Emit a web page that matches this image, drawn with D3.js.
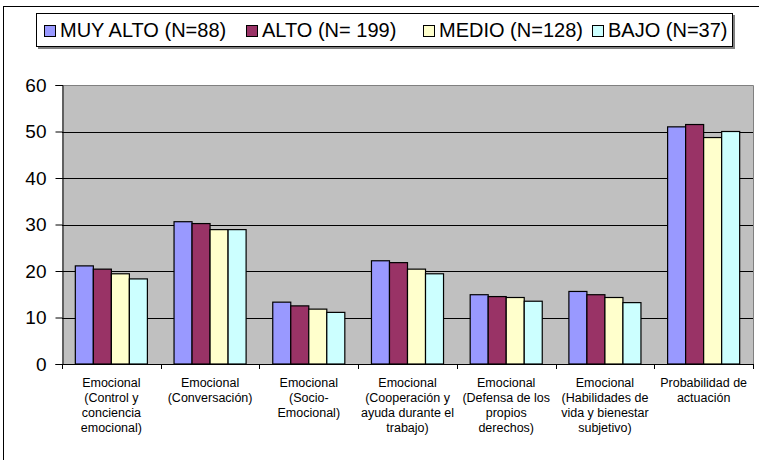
<!DOCTYPE html>
<html>
<head>
<meta charset="utf-8">
<script src="https://cdn.jsdelivr.net/npm/d3@7"></script>
<style>
  html, body { margin: 0; padding: 0; background: #fff; }
  svg { display: block; font-family: "Liberation Sans", Arial, sans-serif; }
</style>
</head>
<body>
<svg id="chart" width="759" height="460"></svg>
<script>
// ---- data ----
const categories = [
  ["Emocional", "(Control y", "conciencia", "emocional)"],
  ["Emocional", "(Conversación)"],
  ["Emocional", "(Socio-", "Emocional)"],
  ["Emocional", "(Cooperación y", "ayuda durante el", "trabajo)"],
  ["Emocional", "(Defensa de los", "propios", "derechos)"],
  ["Emocional", "(Habilidades de", "vida y bienestar", "subjetivo)"],
  ["Probabilidad de", "actuación"]
];
const seriesNames = ["MUY ALTO (N=88)", "ALTO (N= 199)", "MEDIO (N=128)", "BAJO (N=37)"];
const seriesColors = ["#9999FF", "#993366", "#FFFFCC", "#CCFFFF"];
const muyAlto = [21.1, 30.6, 13.3, 22.2, 14.9, 15.6, 51.0];
const alto    = [20.4, 30.2, 12.5, 21.8, 14.5, 14.9, 51.5];
const medio   = [19.4, 28.9, 11.8, 20.4, 14.3, 14.3, 48.7];
const bajo    = [18.3, 28.9, 11.1, 19.4, 13.5, 13.2, 50.0];
const seriesValues = [muyAlto, alto, medio, bajo];
const yTicks = [0, 10, 20, 30, 40, 50, 60];

// ---- layout ----
const svg = d3.select("#chart");
const plot = { left: 62, right: 753, top: 85, bottom: 364 };

// outer frame
svg.append("rect").attr("x", 3.5).attr("y", 6.5).attr("width", 800).attr("height", 500)
  .attr("fill", "#fff").attr("stroke", "#000").attr("stroke-width", 1);

const catIdx = categories.map((d, i) => i);
const x = d3.scaleBand().domain(catIdx).range([plot.left, plot.right])
  .paddingInner(0.27).paddingOuter(0.135);
const xs = d3.scaleBand().domain(d3.range(seriesNames.length)).range([0, x.bandwidth()]);
const y = d3.scaleLinear().domain([0, 60]).range([plot.bottom, plot.top]);

// plot background
svg.append("rect").attr("x", plot.left).attr("y", plot.top)
  .attr("width", plot.right - plot.left).attr("height", plot.bottom - plot.top)
  .attr("fill", "#C0C0C0");

// gridlines
svg.append("g").selectAll("line").data(yTicks.filter(t => t > 0 && t < 60)).join("line")
  .attr("x1", plot.left).attr("x2", plot.right)
  .attr("y1", d => Math.round(y(d)) + 0.5).attr("y2", d => Math.round(y(d)) + 0.5)
  .attr("stroke", "#000").attr("stroke-width", 1);

// plot border top/right
svg.append("path")
  .attr("d", `M${plot.left},${plot.top + 0.5}H${plot.right + 0.5}V${plot.bottom}`)
  .attr("fill", "none").attr("stroke", "#808080").attr("stroke-width", 1);

// bars
const groups = svg.append("g").selectAll("g").data(catIdx).join("g")
  .attr("transform", d => `translate(${x(d)},0)`);
groups.selectAll("rect")
  .data(ci => seriesValues.map((vals, si) => ({ si, v: vals[ci] })))
  .join("rect")
  .attr("x", d => xs(d.si))
  .attr("y", d => y(d.v))
  .attr("width", xs.bandwidth())
  .attr("height", d => y(0) - y(d.v))
  .attr("fill", d => seriesColors[d.si])
  .attr("stroke", "#000").attr("stroke-width", 1.2);

// y axis
const yAxis = d3.axisLeft(y).tickValues(yTicks).tickSize(7).tickPadding(9);
const gy = svg.append("g").attr("transform", `translate(${plot.left + 0.5},0)`).call(yAxis);
gy.select(".domain").attr("stroke", "#000");
gy.selectAll(".tick line").attr("stroke", "#000");
gy.selectAll(".tick text").attr("font-size", 19).attr("fill", "#000")
  .attr("font-family", "Liberation Sans, Arial, sans-serif");

// x axis line + boundary ticks
const gx = svg.append("g");
gx.append("line").attr("x1", plot.left).attr("x2", plot.right + 0.5)
  .attr("y1", plot.bottom + 0.5).attr("y2", plot.bottom + 0.5).attr("stroke", "#000");
const step = x.step();
gx.selectAll("line.bt").data(d3.range(categories.length + 1)).join("line")
  .attr("class", "bt")
  .attr("x1", i => Math.round(plot.left + i * step) + 0.5)
  .attr("x2", i => Math.round(plot.left + i * step) + 0.5)
  .attr("y1", plot.bottom).attr("y2", plot.bottom + 5)
  .attr("stroke", "#000");

// x labels
const labels = svg.append("g").selectAll("text").data(catIdx).join("text")
  .attr("text-anchor", "middle").attr("font-size", 12.5).attr("fill", "#000")
  .attr("transform", d => `translate(${x(d) + x.bandwidth() / 2},386.5)`);
labels.selectAll("tspan").data(d => categories[d]).join("tspan")
  .attr("x", 0).attr("y", (d, i) => i * 15).text(d => d);

// legend
const lg = svg.append("g");
lg.append("rect").attr("x", 38).attr("y", 15).attr("width", 697).attr("height", 34)
  .attr("fill", "#808080");
lg.append("rect").attr("x", 36.5).attr("y", 13.5).attr("width", 696).attr("height", 33)
  .attr("fill", "#fff").attr("stroke", "#000");
const swatchX = [44, 246, 423, 592];
const li = lg.selectAll("g.item").data(seriesNames).join("g").attr("class", "item")
  .attr("transform", (d, i) => `translate(${swatchX[i]},0)`);
li.append("rect").attr("x", 0.5).attr("y", 25.5).attr("width", 11).attr("height", 11)
  .attr("fill", (d, i) => seriesColors[i]).attr("stroke", "#000");
li.append("text").attr("x", 16).attr("y", 37).attr("font-size", 20).attr("fill", "#000")
  .text(d => d);
</script>
</body>
</html>
